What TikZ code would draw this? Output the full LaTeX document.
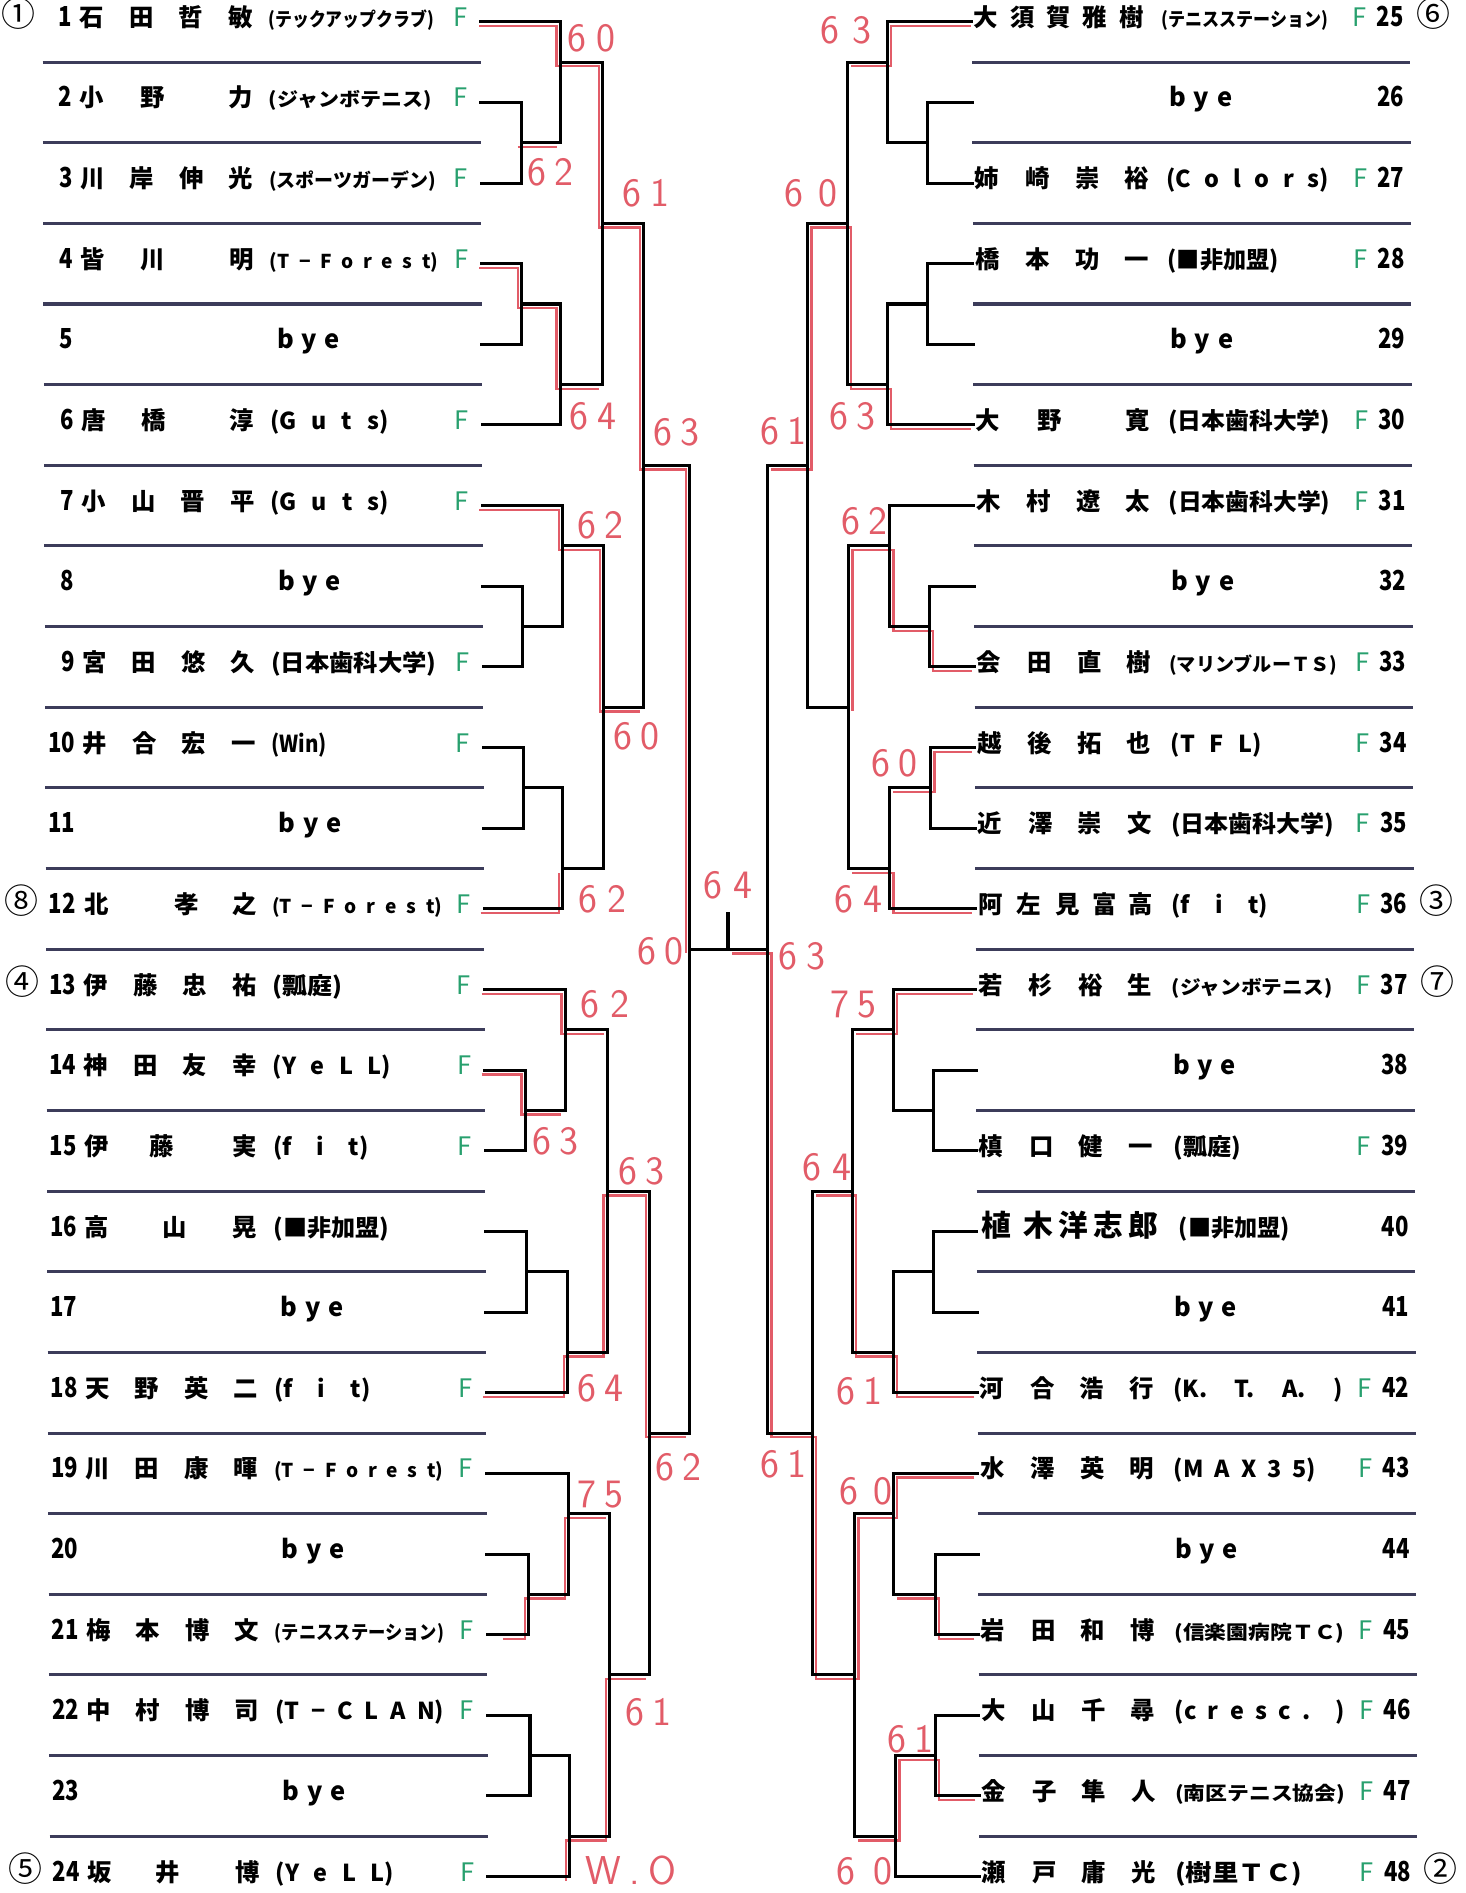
\documentclass[tikz,border=0pt]{standalone}
\usepackage{fontspec}
\usepackage{graphicx}
\newfontfamily\jp{Noto Sans CJK JP}
\newlength\upx
\setlength\upx{0.02cm}
\definecolor{sepc}{RGB}{60,60,90}
\definecolor{redc}{RGB}{226,92,104}
\definecolor{fgreen}{RGB}{40,160,110}
\pgfmathdeclarefunction{ry}{1}{\pgfmathparse{18+(#1-1)*66.8}}
\pgfmathdeclarefunction{sy}{1}{\pgfmathparse{18+(#1-0.5)*66.8}}
\newcounter{nd}
\newcommand\LR[1]{\pgfmathsetmacro\yy{ry(#1)}\pgfmathsetmacro\dx{0.004*\yy}}
\newcommand\T[3][]{\stepcounter{nd}\node[#1] (t\arabic{nd}) at ({#2+\dx},\yy) {#3};}
\newcommand\dg[1]{\scalebox{0.8}[1]{#1}}
\newcommand\cz[2]{\resizebox{#1\upx}{\height}{#2}}
\newcommand\cs[2]{\makebox[#1\upx][s]{#2}}
\newcommand\LN[4]{\T[nm]{76}{#1}\T[nm]{117}{#2}\T[nm]{158}{#3}\T[nm]{199}{#4}}
\newcommand\LT[4]{\T[nm]{76}{#2}\T[nm]{#1}{#3}\T[nm]{199}{#4}}
\newcommand\RN[4]{\T[nm]{817}{#1}\T[nm]{859}{#2}\T[nm]{900}{#3}\T[nm]{941}{#4}}
\newcommand\RR[2]{\LR{#1}\T[num]{1163}{\dg{#2}}}
\newcommand\J[5]{\draw[brk] (#1,{#2}) -- (#1,{#3}); \draw[brk] (#1,{#4}) -- (#5,{#4});}
\newcommand\Sc[4]{\stepcounter{nd}\node[sc] (s\arabic{nd}) at (#1,#2) {\makebox[#3\upx][s]{#4}};}
\tikzset{
 nm/.style={anchor=mid, inner sep=0pt, font=\jp\bfseries\fontsize{11.5}{12}\selectfont},
 nmL/.style={anchor=mid, inner sep=0pt, font=\jp\bfseries\fontsize{14}{14}\selectfont},
 num/.style={anchor=mid east, inner sep=0pt, font=\jp\bfseries\fontsize{13}{13}\selectfont},
 clA/.style={anchor=mid west, inner sep=0pt, font=\jp\bfseries\fontsize{11}{11}\selectfont},
 clB/.style={anchor=mid west, inner sep=0pt, font=\jp\bfseries\fontsize{9}{9}\selectfont},
 clL/.style={anchor=mid west, inner sep=0pt, font=\jp\bfseries\fontsize{11}{12}\selectfont},
 clS/.style={anchor=mid west, inner sep=0pt, font=\jp\bfseries\fontsize{9}{10}\selectfont},
 ff/.style={anchor=mid, inner sep=0pt, text=fgreen, font=\jp\fontsize{12}{12}\selectfont},
 seed/.style={anchor=mid, inner sep=0pt, font=\jp\fontsize{16}{16}\selectfont},
 byes/.style={anchor=mid west, inner sep=0pt, font=\jp\bfseries\fontsize{12}{13}\selectfont},
 sc/.style={anchor=center, inner sep=0pt, text=redc, font=\sffamily\fontsize{19}{19}\selectfont},
 sepline/.style={draw=sepc, line width=0.05cm},
 brk/.style={draw=black, line width=0.05cm, line cap=rect},
 rd/.style={draw=redc, line width=0.04cm},
}
\begin{document}
\begin{tikzpicture}[x=0.02cm,y=-0.02cm]
\fill[white] (0,0) rectangle (1214,1568);
\useasboundingbox (0,0) rectangle (1214,1568);
% separator lines
\foreach \k in {1,...,23}{\pgfmathsetmacro\sv{sy(\k)}\pgfmathsetmacro\d{0.004*\sv}
 \draw[sepline] ({35+\d},\sv) -- ({398+\d},\sv);
 \draw[sepline] ({805+\d},\sv) -- ({1168+\d},\sv);}
% red winner paths, left
\begin{scope}[shift={(-3,3.5)}]
\draw[rd] (400,{ry(1)}) -- (464,{ry(1)}) -- (464,{sy(1)}) -- (499,{sy(1)}) -- (499,{sy(3)}) -- (533,{sy(3)}) -- (533,{sy(6)}) -- (571,{sy(6)}) -- (571,{sy(12)});
\draw[rd] (432,{sy(2)}) -- (464,{sy(2)});
\draw[rd] (400,{ry(4)}) -- (432,{ry(4)}) -- (432,{sy(4)}) -- (464,{sy(4)}) -- (464,{sy(5)}) -- (499,{sy(5)});
\draw[rd] (400,{ry(7)}) -- (466,{ry(7)}) -- (466,{sy(7)}) -- (500,{sy(7)}) -- (500,{sy(9)}) -- (533,{sy(9)});
\draw[rd] (401,{ry(12)}) -- (466,{ry(12)}) -- (466,{sy(11)});
\draw[rd] (402,{ry(13)}) -- (468,{ry(13)}) -- (468,{sy(13)}) -- (503,{sy(13)});
\draw[rd] (402,{ry(14)}) -- (435,{ry(14)}) -- (435,{sy(14)}) -- (468,{sy(14)});
\draw[rd] (403,{ry(18)}) -- (470,{ry(18)}) -- (470,{sy(17)}) -- (503,{sy(17)}) -- (503,{sy(15)}) -- (538,{sy(15)}) -- (538,{sy(18)}) -- (571,{sy(18)});
\draw[rd] (420,{ry(21)}) -- (438,{ry(21)}) -- (438,{sy(20)}) -- (471,{sy(20)}) -- (471,{sy(19)}) -- (505,{sy(19)});
\draw[rd] (472,{ry(24)}) -- (472,{sy(23)}) -- (505,{sy(23)}) -- (505,{sy(21)}) -- (538,{sy(21)});
\end{scope}
% red winner paths, right
\begin{scope}[shift={(3,3.5)}]
\draw[rd] (801,{ry(1)}) -- (735,{ry(1)}) -- (735,{sy(1)}) -- (702,{sy(1)});
\draw[rd] (801,{ry(6)}) -- (735,{ry(6)}) -- (735,{sy(5)}) -- (702,{sy(5)}) -- (702,{sy(3)}) -- (669,{sy(3)}) -- (669,{sy(6)}) -- (636,{sy(6)});
\draw[rd] (802,{ry(9)}) -- (770,{ry(9)}) -- (770,{sy(8)}) -- (737,{sy(8)}) -- (737,{sy(7)}) -- (703,{sy(7)}) -- (703,{sy(9)});
\draw[rd] (802,{ry(10)}) -- (771,{ry(10)}) -- (771,{sy(10)}) -- (737,{sy(10)});
\draw[rd] (802,{ry(12)}) -- (737,{ry(12)}) -- (737,{sy(11)}) -- (703,{sy(11)});
\draw[rd] (803,{ry(13)}) -- (740,{ry(13)}) -- (740,{sy(13)}) -- (706,{sy(13)});
\draw[rd] (804,{ry(18)}) -- (740,{ry(18)}) -- (740,{sy(17)}) -- (706,{sy(17)}) -- (706,{sy(15)}) -- (673,{sy(15)});
\draw[rd] (804,{ry(21)}) -- (775,{ry(21)}) -- (775,{sy(20)}) -- (740,{sy(20)});
\draw[rd] (804,{ry(19)}) -- (740,{ry(19)}) -- (740,{sy(19)}) -- (708,{sy(19)}) -- (708,{sy(21)}) -- (673,{sy(21)}) -- (673,{sy(18)}) -- (636,{sy(18)}) -- (636,{sy(12)}) -- (603,{sy(12)});
\draw[rd] (805,{ry(23)}) -- (775,{ry(23)}) -- (775,{sy(22)}) -- (742,{sy(22)}) -- (742,{sy(23)}) -- (708,{sy(23)});
\end{scope}
% player stubs
\foreach \r/\xa in {1/464,2/432,3/432,4/432,5/432,6/464,7/466,8/433,9/433,10/434,11/434,12/466,13/468,14/435,15/435,16/436,17/436,18/470,19/471,20/438,21/438,22/439,23/439,24/472}{
 \pgfmathsetmacro\yv{ry(\r)}
 \coordinate (P\r) at ({398+0.004*\yv},\yv);
 \draw[brk] (P\r) -- (\xa,\yv);}
\foreach \r/\xa in {1/735,2/768,3/768,4/768,5/768,6/735,7/737,8/770,9/770,10/771,11/771,12/737,13/740,14/773,15/773,16/773,17/773,18/740,19/740,20/775,21/775,22/775,23/775,24/742}{
 \pgfmathsetmacro\yv{ry(\r)}
 \coordinate (Q\r) at ({805+0.004*\yv},\yv);
 \draw[brk] (Q\r) -- (\xa,\yv);}
% left bracket
\J{432}{ry(2)}{ry(3)}{sy(2)}{464}
\J{432}{ry(4)}{ry(5)}{sy(4)}{464}
\J{433}{ry(8)}{ry(9)}{sy(8)}{466}
\J{434}{ry(10)}{ry(11)}{sy(10)}{466}
\J{435}{ry(14)}{ry(15)}{sy(14)}{468}
\J{436}{ry(16)}{ry(17)}{sy(16)}{470}
\J{438}{ry(20)}{ry(21)}{sy(20)}{471}
\J{439}{ry(22)}{ry(23)}{sy(22)}{472}
\J{464}{ry(1)}{sy(2)}{sy(1)}{499}
\J{464}{sy(4)}{ry(6)}{sy(5)}{499}
\J{466}{ry(7)}{sy(8)}{sy(7)}{500}
\J{466}{sy(10)}{ry(12)}{sy(11)}{500}
\J{468}{ry(13)}{sy(14)}{sy(13)}{503}
\J{470}{sy(16)}{ry(18)}{sy(17)}{503}
\J{471}{ry(19)}{sy(20)}{sy(19)}{505}
\J{472}{sy(22)}{ry(24)}{sy(23)}{505}
\J{499}{sy(1)}{sy(5)}{sy(3)}{533}
\J{500}{sy(7)}{sy(11)}{sy(9)}{533}
\J{503}{sy(13)}{sy(17)}{sy(15)}{538}
\J{505}{sy(19)}{sy(23)}{sy(21)}{538}
\J{533}{sy(3)}{sy(9)}{sy(6)}{571}
\J{538}{sy(15)}{sy(21)}{sy(18)}{571}
\J{571}{sy(6)}{sy(18)}{sy(12)}{636}
% right bracket
\J{768}{ry(2)}{ry(3)}{sy(2)}{735}
\J{768}{ry(4)}{ry(5)}{sy(4)}{735}
\J{770}{ry(8)}{ry(9)}{sy(8)}{737}
\J{771}{ry(10)}{ry(11)}{sy(10)}{737}
\J{773}{ry(14)}{ry(15)}{sy(14)}{740}
\J{773}{ry(16)}{ry(17)}{sy(16)}{740}
\J{775}{ry(20)}{ry(21)}{sy(20)}{740}
\J{775}{ry(22)}{ry(23)}{sy(22)}{742}
\J{735}{ry(1)}{sy(2)}{sy(1)}{702}
\J{735}{sy(4)}{ry(6)}{sy(5)}{702}
\J{737}{ry(7)}{sy(8)}{sy(7)}{703}
\J{737}{sy(10)}{ry(12)}{sy(11)}{703}
\J{740}{ry(13)}{sy(14)}{sy(13)}{706}
\J{740}{sy(16)}{ry(18)}{sy(17)}{706}
\J{740}{ry(19)}{sy(20)}{sy(19)}{708}
\J{742}{sy(22)}{ry(24)}{sy(23)}{708}
\J{702}{sy(1)}{sy(5)}{sy(3)}{669}
\J{703}{sy(7)}{sy(11)}{sy(9)}{669}
\J{706}{sy(13)}{sy(17)}{sy(15)}{673}
\J{708}{sy(19)}{sy(23)}{sy(21)}{673}
\J{669}{sy(3)}{sy(9)}{sy(6)}{636}
\J{673}{sy(15)}{sy(21)}{sy(18)}{636}
\draw[brk] (636,{sy(6)}) -- (636,{sy(18)});
\coordinate (champ) at (603,757);
\draw[brk, line width=0.075cm] (champ) -- (603,{sy(12)});
% left players
\LR{1}\T[seed]{15}{①}\T[num]{60}{\dg{1}}\LN{石}{田}{哲}{敏}\T[clB]{222}{\cz{137}{(テックアップクラブ)}}\T[ff]{381}{F}
\LR{2}\T[num]{60}{\dg{2}}\LT{126}{小}{野}{力}\T[clB]{222}{\cz{135}{(ジャンボテニス)}}\T[ff]{381}{F}
\LR{3}\T[num]{60}{\dg{3}}\LN{川}{岸}{伸}{光}\T[clB]{222}{\cz{138}{(スポーツガーデン)}}\T[ff]{381}{F}
\LR{4}\T[num]{60}{\dg{4}}\LT{126}{皆}{川}{明}\T[clS]{222}{\cs{140}{(T − F o r e s t)}}\T[ff]{381}{F}
\LR{5}\T[num]{60}{\dg{5}}\T[byes]{228}{\cs{52}{b y e}}
\LR{6}\T[num]{60}{\dg{6}}\LT{126}{唐}{橋}{淳}\T[clL]{222}{\cs{98}{(G u t s)}}\T[ff]{381}{F}
\LR{7}\T[num]{60}{\dg{7}}\LN{小}{山}{晋}{平}\T[clL]{222}{\cs{98}{(G u t s)}}\T[ff]{381}{F}
\LR{8}\T[num]{60}{\dg{8}}\T[byes]{228}{\cs{52}{b y e}}
\LR{9}\T[num]{60}{\dg{9}}\LN{宮}{田}{悠}{久}\T[clA]{222}{\cz{137}{(日本歯科大学)}}\T[ff]{381}{F}
\LR{10}\T[num]{60}{\dg{10}}\LN{井}{合}{宏}{一}\T[clA]{222}{\cz{46}{(Win)}}\T[ff]{381}{F}
\LR{11}\T[num]{60}{\dg{11}}\T[byes]{228}{\cs{52}{b y e}}
\LR{12}\T[seed]{15}{⑧}\T[num]{60}{\dg{12}}\T[nm]{77}{北}\T[nm]{152}{孝}\T[nm]{200}{之}\T[clS]{222}{\cs{141}{(T − F o r e s t)}}\T[ff]{381}{F}
\LR{13}\T[seed]{15}{④}\T[num]{60}{\dg{13}}\LN{伊}{藤}{忠}{祐}\T[clA]{222}{\cz{58}{(瓢庭)}}\T[ff]{381}{F}
\LR{14}\T[num]{60}{\dg{14}}\LN{神}{田}{友}{幸}\T[clL]{222}{\cs{98}{(Y e L L)}}\T[ff]{381}{F}
\LR{15}\T[num]{60}{\dg{15}}\LT{130}{伊}{藤}{実}\T[clL]{222}{\cs{79}{(f i t)}}\T[ff]{381}{F}
\LR{16}\T[num]{60}{\dg{16}}\LT{141}{高}{山}{晃}\T[clA]{222}{\cz{96}{(■非加盟)}}
\LR{17}\T[num]{60}{\dg{17}}\T[byes]{228}{\cs{52}{b y e}}
\LR{18}\T[num]{60}{\dg{18}}\LN{天}{野}{英}{二}\T[clL]{222}{\cs{80}{(f i t)}}\T[ff]{381}{F}
\LR{19}\T[num]{60}{\dg{19}}\LN{川}{田}{康}{暉}\T[clS]{222}{\cs{140}{(T − F o r e s t)}}\T[ff]{381}{F}
\LR{20}\T[num]{60}{\dg{20}}\T[byes]{228}{\cs{52}{b y e}}
\LR{21}\T[num]{60}{\dg{21}}\LN{梅}{本}{博}{文}\T[clB]{222}{\cz{140}{(テニスステーション)}}\T[ff]{381}{F}
\LR{22}\T[num]{60}{\dg{22}}\LN{中}{村}{博}{司}\T[clL]{222}{\cs{140}{(T − C L A N)}}\T[ff]{381}{F}
\LR{23}\T[num]{60}{\dg{23}}\T[byes]{228}{\cs{52}{b y e}}
\LR{24}\T[seed]{15}{⑤}\T[num]{60}{\dg{24}}\LT{133}{坂}{井}{博}\T[clL]{222}{\cs{98}{(Y e L L)}}\T[ff]{381}{F}
% right players
\RR{1}{25}\T[nm]{816}{大}\T[nm]{847}{須}\T[nm]{877}{賀}\T[nm]{907}{雅}\T[nm]{937}{樹}\T[clB]{962}{\cz{138}{(テニスステーション)}}\T[ff]{1126}{F}\T[seed]{1187}{⑥}
\RR{2}{26}\T[byes]{968}{\cs{52}{b y e}}
\RR{3}{27}\RN{姉}{崎}{崇}{裕}\T[clL]{965}{\cs{135}{(C o l o r s)}}\T[ff]{1126}{F}
\RR{4}{28}\RN{橋}{本}{功}{一}\T[clA]{966}{\cz{92}{(■非加盟)}}\T[ff]{1126}{F}
\RR{5}{29}\T[byes]{968}{\cs{52}{b y e}}
\RR{6}{30}\T[nm]{817}{大}\T[nm]{868}{野}\T[nm]{941}{寛}\T[clA]{966}{\cz{134}{(日本歯科大学)}}\T[ff]{1126}{F}
\RR{7}{31}\RN{木}{村}{遼}{太}\T[clA]{966}{\cz{134}{(日本歯科大学)}}\T[ff]{1126}{F}
\RR{8}{32}\T[byes]{968}{\cs{52}{b y e}}
\RR{9}{33}\RN{会}{田}{直}{樹}\T[clB]{966}{\cz{139}{(マリンブルーＴＳ)}}\T[ff]{1126}{F}
\RR{10}{34}\RN{越}{後}{拓}{也}\T[clL]{967}{\cs{75}{(T F L)}}\T[ff]{1126}{F}
\RR{11}{35}\RN{近}{澤}{崇}{文}\T[clA]{967}{\cz{135}{(日本歯科大学)}}\T[ff]{1126}{F}
\RR{12}{36}\T[nm]{818}{阿}\T[nm]{849}{左}\T[nm]{881}{見}\T[nm]{912}{富}\T[nm]{942}{高}\T[clL]{967}{\cs{80}{(f i t)}}\T[ff]{1126}{F}\T[seed]{1187}{③}
\RR{13}{37}\RN{若}{杉}{裕}{生}\T[clB]{967}{\cz{133}{(ジャンボテニス)}}\T[ff]{1126}{F}\T[seed]{1187}{⑦}
\RR{14}{38}\T[byes]{968}{\cs{52}{b y e}}
\RR{15}{39}\RN{槙}{口}{健}{一}\T[clA]{968}{\cz{56}{(瓢庭)}}\T[ff]{1126}{F}
\RR{16}{40}\T[nmL]{821}{植}\T[nmL]{856}{木}\T[nmL]{885}{洋}\T[nmL]{914}{志}\T[nmL]{943}{郎}\T[clA]{972}{\cz{92}{(■非加盟)}}
\RR{17}{41}\T[byes]{968}{\cs{52}{b y e}}
\RR{18}{42}\RN{河}{合}{浩}{行}\T[clL]{967}{\cs{140}{(K. T. A. )}}\T[ff]{1126}{F}
\RR{19}{43}\RN{水}{澤}{英}{明}\T[clL]{967}{\cs{118}{(M A X 3 5)}}\T[ff]{1126}{F}
\RR{20}{44}\T[byes]{968}{\cs{52}{b y e}}
\RR{21}{45}\RN{岩}{田}{和}{博}\T[clB]{967}{\cz{141}{(信楽園病院ＴＣ)}}\T[ff]{1126}{F}
\RR{22}{46}\RN{大}{山}{千}{尋}\T[clL]{967}{\cs{141}{(c r e s c . )}}\T[ff]{1126}{F}
\RR{23}{47}\RN{金}{子}{隼}{人}\T[clB]{967}{\cz{141}{(南区テニス協会)}}\T[ff]{1126}{F}
\RR{24}{48}\RN{瀬}{戸}{庸}{光}\T[clA]{967}{\cz{105}{(樹里ＴＣ)}}\T[ff]{1126}{F}\T[seed]{1187}{②}
% scores left
\Sc{490}{32}{40}{6 0}
\Sc{456}{143}{38}{6 2}
\Sc{535}{160}{38}{6 1}
\Sc{490}{345}{36}{6 4}
\Sc{556}{358}{30}{6 3}
\Sc{496}{435}{36}{6 2}
\Sc{526}{610}{36}{6 0}
\Sc{499}{745}{40}{6 2}
\Sc{545}{788}{34}{6 0}
\Sc{603}{733}{40}{6 4}
\Sc{501}{832}{40}{6 2}
\Sc{456}{945}{30}{6 3}
\Sc{530}{970}{36}{6 3}
\Sc{497}{1150}{38}{6 4}
\Sc{561}{1215}{36}{6 2}
\Sc{496}{1238}{36}{7 5}
\Sc{537}{1418}{38}{6 1}
\Sc{511}{1549}{52}{W . O}
% scores right
\Sc{701}{25}{42}{6 3}
\Sc{672}{160}{44}{6 0}
\Sc{645}{357}{30}{6 1}
\Sc{706}{345}{38}{6 3}
\Sc{715}{432}{36}{6 2}
\Sc{741}{632}{38}{6 0}
\Sc{711}{745}{40}{6 4}
\Sc{662}{792}{34}{6 3}
\Sc{706}{832}{36}{7 5}
\Sc{685}{967}{40}{6 4}
\Sc{710}{1152}{34}{6 1}
\Sc{646}{1213}{32}{6 1}
\Sc{717}{1235}{44}{6 0}
\Sc{753}{1441}{36}{6 1}
\Sc{716}{1550}{46}{6 0}
\end{tikzpicture}
\end{document}
